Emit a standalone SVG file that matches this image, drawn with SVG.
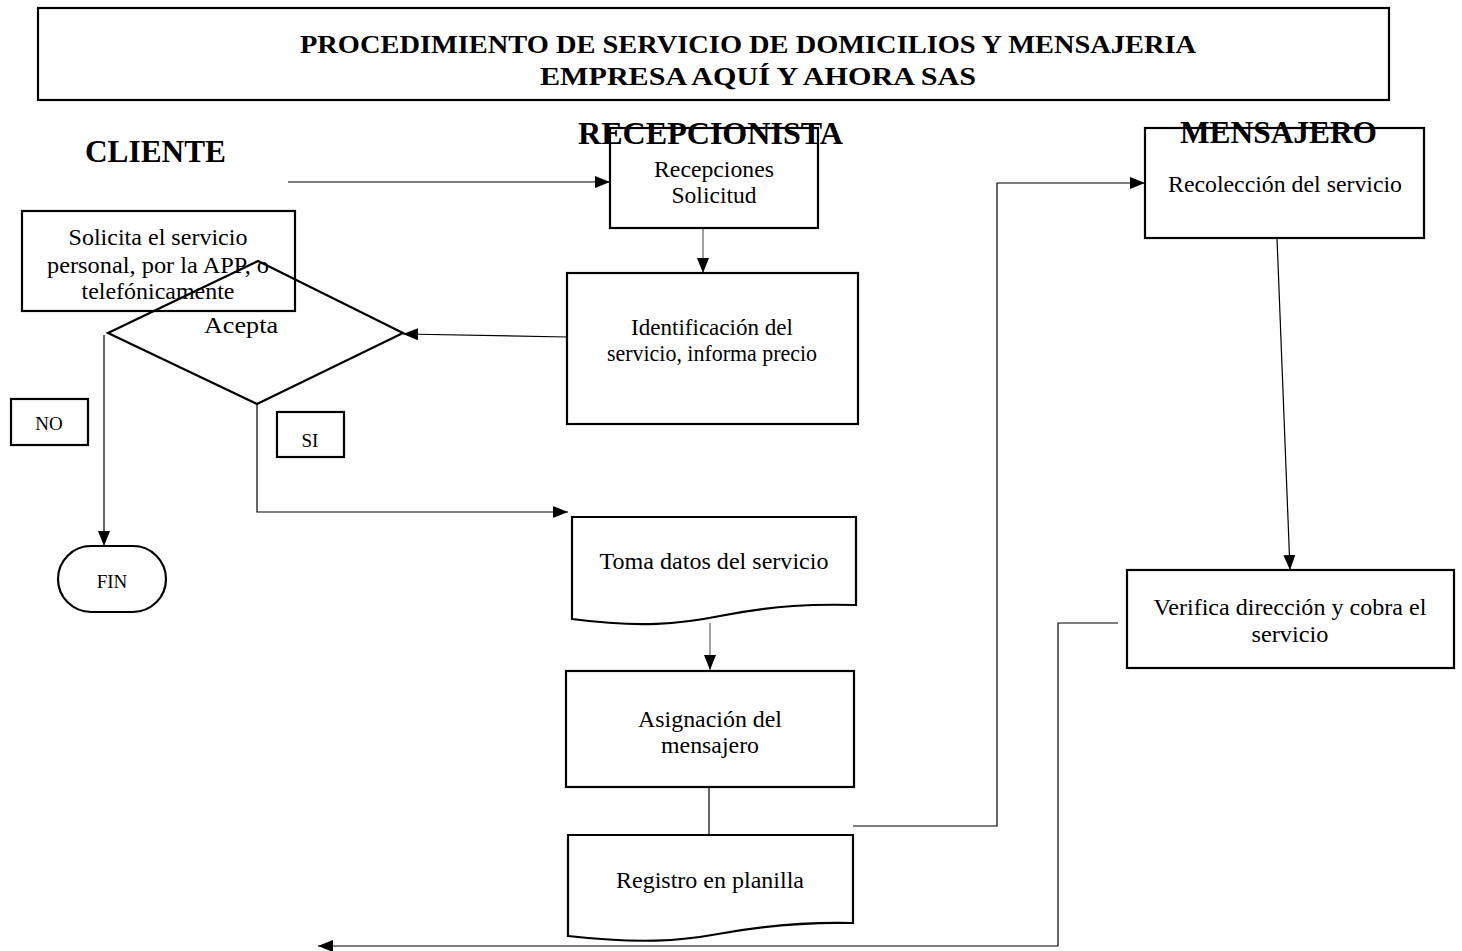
<svg xmlns="http://www.w3.org/2000/svg" width="1462" height="951" viewBox="0 0 1462 951">
<style>
.box{fill:none;stroke:#000;stroke-width:2.2}
.t{font-family:"Liberation Serif","Times New Roman",serif;font-size:22.5px;fill:#000;text-anchor:middle}
.s{font-family:"Liberation Serif","Times New Roman",serif;font-size:19px;fill:#000;text-anchor:middle}
.h{font-family:"Liberation Serif","Times New Roman",serif;font-weight:bold;fill:#000}
.c{fill:none;stroke:#000;stroke-width:1.2}
.g{fill:none;stroke:#888;stroke-width:1.6}
</style>
<defs>
<marker id="ah" viewBox="0 0 15 12" refX="15" refY="6" markerWidth="15" markerHeight="12" markerUnits="userSpaceOnUse" orient="auto">
<path d="M0,0 L15,6 L0,12 Z" fill="#000"/>
</marker>
</defs>
<rect width="1462" height="951" fill="#fff"/>

<g id="title">
<rect x="38" y="8" width="1351" height="92" class="box" stroke-width="2.6"/>
<text class="h" x="748" y="53" font-size="26" text-anchor="middle" textLength="896" lengthAdjust="spacingAndGlyphs">PROCEDIMIENTO DE SERVICIO DE DOMICILIOS Y MENSAJERIA</text>
<text class="h" x="758" y="85" font-size="26" text-anchor="middle" textLength="436" lengthAdjust="spacingAndGlyphs">EMPRESA AQUÍ Y AHORA SAS</text>
</g>

<g id="lane-cliente">
<text class="h" x="85" y="162" font-size="32" textLength="141" lengthAdjust="spacingAndGlyphs">CLIENTE</text>
</g>

<g id="connectors">
<line x1="288" y1="182" x2="610" y2="182" class="c" marker-end="url(#ah)"/>
<line x1="703" y1="229" x2="703" y2="273" class="g" marker-end="url(#ah)"/>
<line x1="567" y1="337" x2="403" y2="334" class="c" marker-end="url(#ah)"/>
<line x1="104" y1="335" x2="104" y2="546" class="c" marker-end="url(#ah)"/>
<polyline points="257,404 257,512 568,512" class="c" marker-end="url(#ah)"/>
<line x1="710" y1="623" x2="710" y2="670" class="g" marker-end="url(#ah)"/>
<line x1="709" y1="788" x2="709" y2="835" class="c"/>
<polyline points="853,826 997,826 997,183 1145,183" class="c" marker-end="url(#ah)"/>
<line x1="1277" y1="238" x2="1290" y2="570" class="c" marker-end="url(#ah)"/>
<polyline points="1118,623 1058,623 1058,946 318,946" class="c" marker-end="url(#ah)"/>
</g>

<g id="solicita">
<rect x="22" y="211" width="273" height="100" class="box"/>
<text class="t" x="158" y="245" textLength="179" lengthAdjust="spacingAndGlyphs">Solicita el servicio</text>
<text class="t" x="158" y="273" textLength="222" lengthAdjust="spacingAndGlyphs">personal, por la APP, o</text>
<text class="t" x="158" y="299" textLength="153" lengthAdjust="spacingAndGlyphs">telefónicamente</text>
</g>

<g id="acepta">
<polygon points="258,261 403,333 257,404 108,333" class="box"/>
<text class="t" x="241" y="333" textLength="74" lengthAdjust="spacingAndGlyphs">Acepta</text>
</g>

<g id="no">
<rect x="11" y="399" width="77" height="46" class="box" stroke-width="1.8"/>
<text class="s" x="49" y="430">NO</text>
</g>

<g id="si">
<rect x="277" y="412" width="67" height="45" class="box" stroke-width="1.8"/>
<text class="s" x="310" y="447">SI</text>
</g>

<g id="fin">
<rect x="58" y="546" width="108" height="66" rx="33" ry="33" class="box"/>
<text class="s" x="112" y="588">FIN</text>
</g>

<g id="lane-recepcionista">
<rect x="610" y="128" width="208" height="100" class="box"/>
<text class="h" x="578" y="144" font-size="32" textLength="265" lengthAdjust="spacingAndGlyphs">RECEPCIONISTA</text>
</g>

<g id="recepciones">
<text class="t" x="714" y="177" textLength="120" lengthAdjust="spacingAndGlyphs">Recepciones</text>
<text class="t" x="714" y="203" textLength="85" lengthAdjust="spacingAndGlyphs">Solicitud</text>
</g>

<g id="identificacion">
<rect x="567" y="273" width="291" height="151" class="box"/>
<text class="t" x="712" y="335" textLength="162" lengthAdjust="spacingAndGlyphs">Identificación del</text>
<text class="t" x="712" y="361" textLength="210" lengthAdjust="spacingAndGlyphs">servicio, informa precio</text>
</g>

<g id="toma">
<path d="M572,517 H856 V605 C815,604 775,605 720,616 C680,624 640,628 572,619 Z" class="box"/>
<text class="t" x="714" y="569" textLength="229" lengthAdjust="spacingAndGlyphs">Toma datos del servicio</text>
</g>

<g id="asignacion">
<rect x="566" y="671" width="288" height="116" class="box"/>
<text class="t" x="710" y="727" textLength="144" lengthAdjust="spacingAndGlyphs">Asignación del</text>
<text class="t" x="710" y="753" textLength="98" lengthAdjust="spacingAndGlyphs">mensajero</text>
</g>

<g id="registro">
<path d="M568,835 H853 V923 C812,922 772,924 718,934 C680,941 640,944 568,936 Z" class="box"/>
<text class="t" x="710" y="888" textLength="188" lengthAdjust="spacingAndGlyphs">Registro en planilla</text>
</g>

<g id="recoleccion">
<rect x="1145" y="128" width="279" height="110" class="box"/>
<text class="h" x="1180" y="143" font-size="32" textLength="197" lengthAdjust="spacingAndGlyphs">MENSAJERO</text>
<text class="t" x="1285" y="192" textLength="234" lengthAdjust="spacingAndGlyphs">Recolección del servicio</text>
</g>

<g id="verifica">
<rect x="1127" y="570" width="327" height="98" class="box"/>
<text class="t" x="1290" y="615" textLength="273" lengthAdjust="spacingAndGlyphs">Verifica dirección y cobra el</text>
<text class="t" x="1290" y="642" textLength="77" lengthAdjust="spacingAndGlyphs">servicio</text>
</g>
</svg>
